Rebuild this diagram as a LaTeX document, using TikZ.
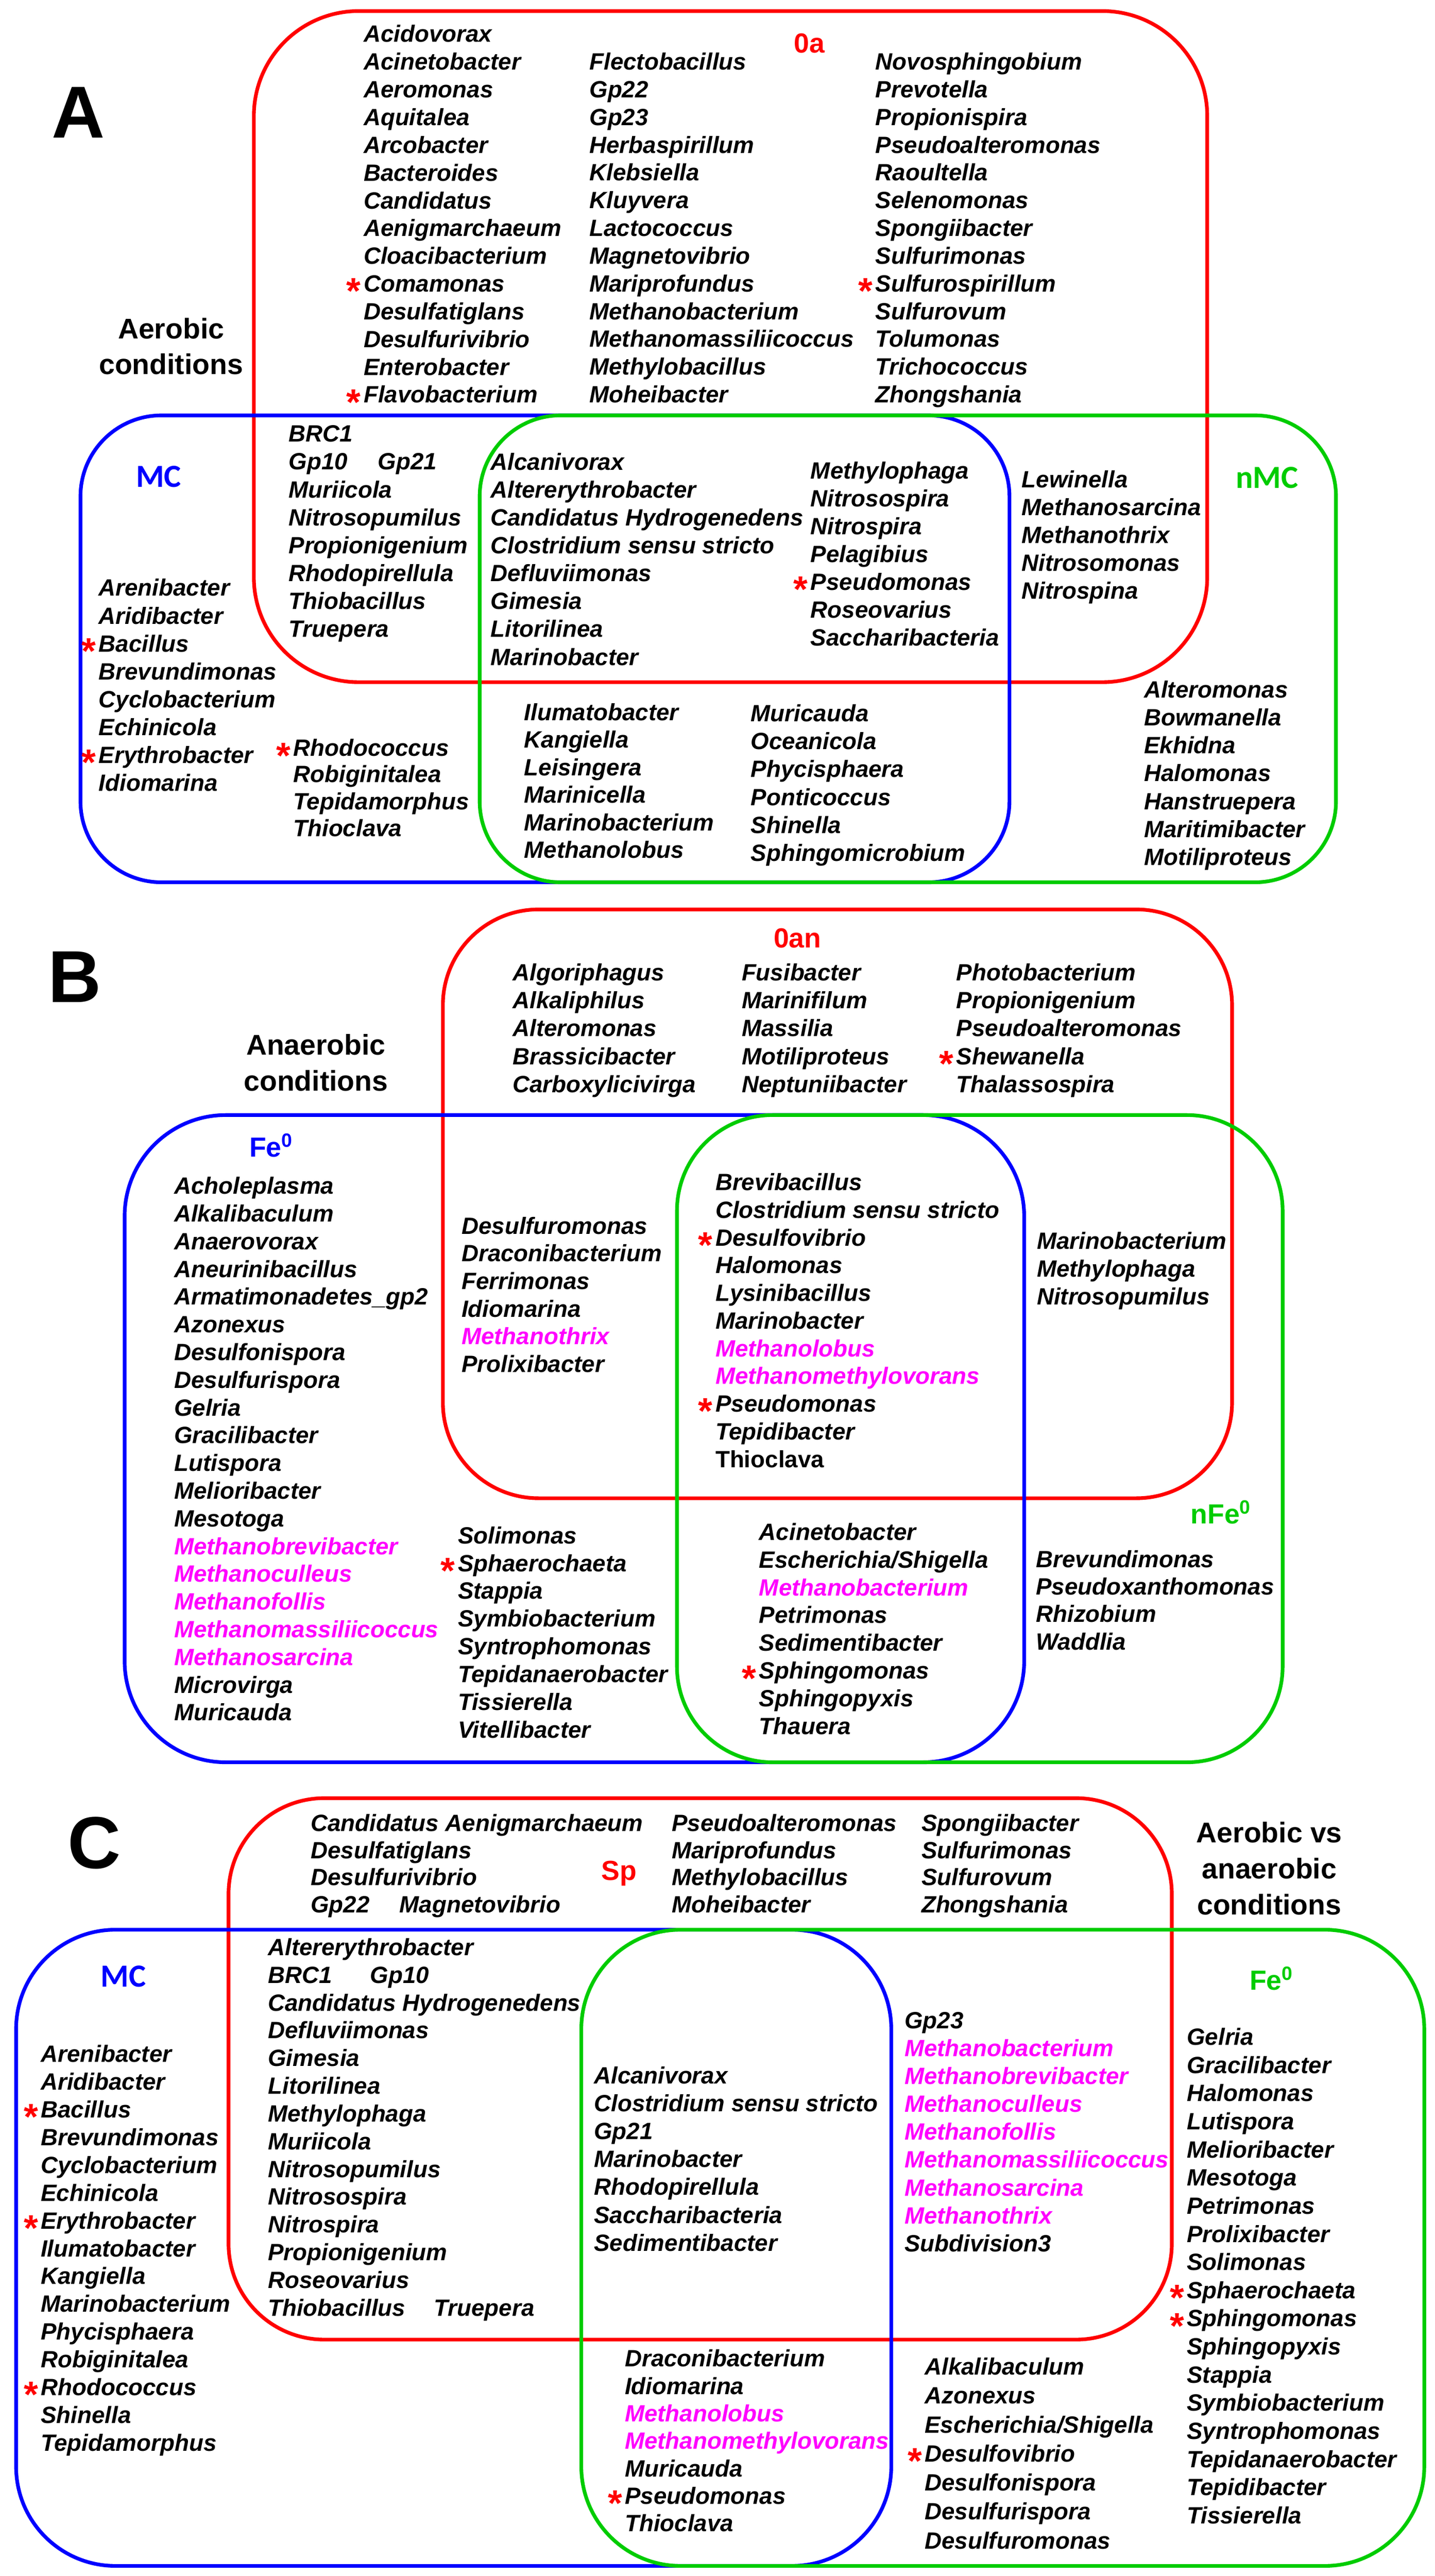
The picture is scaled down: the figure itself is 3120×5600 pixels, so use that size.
\documentclass[tikz,border=0pt]{standalone}
\usepackage{fontspec}
\setmainfont{Liberation Sans}
\newfontfamily\calfont{Carlito}
\definecolor{vred}{RGB}{255,0,0}
\definecolor{vblue}{RGB}{0,0,255}
\definecolor{vgreen}{RGB}{0,204,0}
\definecolor{vmag}{RGB}{255,0,255}
\newcommand\rast[1]{\llap{\smash{\raisebox{-6.5pt}{\textcolor{vred}{\fontsize{20}{20}\selectfont\upshape\bfseries *}}}\hspace{1.5pt}}#1}
\newcommand\meth[1]{\textcolor{vmag}{#1}}
% #1 name, #2 x (px), #3 first baseline (px), #4 line pitch (pt), #5 lines
\newcommand\spcol[5]{\node[sp, font=\fontsize{12.8}{#4}\selectfont\bfseries\itshape] (#1) at (#2,{#3-40}) {\rule{0pt}{10pt}#5};}
\begin{document}
\begin{tikzpicture}[x=0.25pt,y=-0.25pt,
  sp/.style={inner sep=0pt, anchor=north west, align=left},
  sp1/.style={inner sep=0pt, anchor=base west, font=\fontsize{12.8}{15}\selectfont\bfseries\itshape},
  box/.style={line width=2pt},
  lbl/.style={inner sep=0pt, font=\fontsize{15}{18}\selectfont\bfseries},
  mclbl/.style={inner sep=0pt, font=\calfont\fontsize{17.5}{20}\selectfont\bfseries},
  cond/.style={inner sep=0pt, align=center, font=\fontsize{15.5}{19.5}\selectfont\bfseries},
  panel/.style={inner sep=0pt, font=\fontsize{40}{40}\selectfont\bfseries}]
\useasboundingbox (0,0) rectangle (3120,5600);
% ---------------- Panel A ----------------
\draw[box, vred, rounded corners=57pt] (552,24) rectangle (2625,1483);
\draw[box, vblue, rounded corners=44pt] (175,903) rectangle (2195,1918);
\draw[box, vgreen, rounded corners=44pt] (1043,903) rectangle (2905,1918);
\node[panel] (pA) at (170,245) {A};
\node[cond] (aer) at (372,753) {Aerobic\\conditions};
\node[lbl, text=vred] (l0a) at (1760,94) {0a};
\node[mclbl, text=vblue] (lmcA) at (345,1036) {MC};
\node[mclbl, text=vgreen] (lnmc) at (2755,1038) {nMC};
\spcol{aoa}{790}{91}{15.075}{Acidovorax\\Acinetobacter\\Aeromonas\\Aquitalea\\Arcobacter\\Bacteroides\\Candidatus\\Aenigmarchaeum\\Cloacibacterium\\\rast{Comamonas}\\Desulfatiglans\\Desulfurivibrio\\Enterobacter\\\rast{Flavobacterium}}
\spcol{aob}{1281}{151}{15.075}{Flectobacillus\\Gp22\\Gp23\\Herbaspirillum\\Klebsiella\\Kluyvera\\Lactococcus\\Magnetovibrio\\Mariprofundus\\Methanobacterium\\Methanomassiliicoccus\\Methylobacillus\\Moheibacter}
\spcol{aoc}{1903}{151}{15.075}{Novosphingobium\\Prevotella\\Propionispira\\Pseudoalteromonas\\Raoultella\\Selenomonas\\Spongiibacter\\Sulfurimonas\\\rast{Sulfurospirillum}\\Sulfurovum\\Tolumonas\\Trichococcus\\Zhongshania}
\spcol{amo}{627}{960}{15.15}{BRC1\\\makebox[48.5pt][l]{Gp10}Gp21\\Muriicola\\Nitrosopumilus\\Propionigenium\\Rhodopirellula\\Thiobacillus\\Truepera}
\spcol{aall}{1066}{1021}{15.15}{Alcanivorax\\Altererythrobacter\\Candidatus Hydrogenedens\\Clostridium sensu stricto\\Defluviimonas\\Gimesia\\Litorilinea\\Marinobacter}
\spcol{aallb}{1762}{1040}{15.15}{Methylophaga\\Nitrosospira\\Nitrospira\\Pelagibius\\\rast{Pseudomonas}\\Roseovarius\\Saccharibacteria}
\spcol{aon}{2221}{1059}{15.15}{Lewinella\\Methanosarcina\\Methanothrix\\Nitrosomonas\\Nitrospina}
\spcol{amc}{214}{1295}{15.15}{Arenibacter\\Aridibacter\\\rast{Bacillus}\\Brevundimonas\\Cyclobacterium\\Echinicola\\\rast{Erythrobacter}\\Idiomarina}
\node[sp1] (arho) at (637,1644) {\rast{Rhodococcus}};
\spcol{amcb}{637}{1700}{14.75}{Robiginitalea\\Tepidamorphus\\Thioclava}
\spcol{amn}{1139}{1565}{15}{Ilumatobacter\\Kangiella\\Leisingera\\Marinicella\\Marinobacterium\\Methanolobus}
\spcol{amnb}{1632}{1568}{15.15}{Muricauda\\Oceanicola\\Phycisphaera\\Ponticoccus\\Shinella\\Sphingomicrobium}
\spcol{anm}{2487}{1516}{15.175}{Alteromonas\\Bowmanella\\Ekhidna\\Halomonas\\Hanstruepera\\Maritimibacter\\Motiliproteus}
% ---------------- Panel B ----------------
\draw[box, vred, rounded corners=52pt] (963,1977) rectangle (2679,3257);
\draw[box, vblue, rounded corners=55pt] (271,2424) rectangle (2227,3831);
\draw[box, vgreen, rounded corners=52pt] (1472,2424) rectangle (2789,3831);
\node[panel] (pB) at (162,2124) {B};
\node[cond] (anaer) at (687,2310) {Anaerobic\\conditions};
\node[lbl, text=vred] (l0an) at (1734,2040) {0an};
\node[lbl, text=vblue] (lfe) at (590,2490) {Fe\textsuperscript{0}};
\node[lbl, text=vgreen] (lnfe) at (2655,3287) {nFe\textsuperscript{0}};
\spcol{boa}{1114}{2131}{15.175}{Algoriphagus\\Alkaliphilus\\Alteromonas\\Brassicibacter\\Carboxylicivirga}
\spcol{bob}{1612}{2131}{15.175}{Fusibacter\\Marinifilum\\Massilia\\Motiliproteus\\Neptuniibacter}
\spcol{boc}{2079}{2131}{15.175}{Photobacterium\\Propionigenium\\Pseudoalteromonas\\\rast{Shewanella}\\Thalassospira}
\spcol{bfo}{1003}{2682}{15}{Desulfuromonas\\Draconibacterium\\Ferrimonas\\Idiomarina\\\meth{Methanothrix}\\Prolixibacter}
\spcol{ball}{1555}{2587}{15.05}{Brevibacillus\\Clostridium sensu stricto\\\rast{Desulfovibrio}\\Halomonas\\Lysinibacillus\\Marinobacter\\\meth{Methanolobus}\\\meth{Methanomethylovorans}\\\rast{Pseudomonas}\\Tepidibacter\\\textup{Thioclava}}
\spcol{bno}{2254}{2715}{15.125}{Marinobacterium\\Methylophaga\\Nitrosopumilus}
\spcol{bfe}{378}{2595}{15.065}{Acholeplasma\\Alkalibaculum\\Anaerovorax\\Aneurinibacillus\\Armatimonadetes\_gp2\\Azonexus\\Desulfonispora\\Desulfurispora\\Gelria\\Gracilibacter\\Lutispora\\Melioribacter\\Mesotoga\\\meth{Methanobrevibacter}\\\meth{Methanoculleus}\\\meth{Methanofollis}\\\meth{Methanomassiliicoccus}\\\meth{Methanosarcina}\\Microvirga\\Muricauda}
\spcol{bfeb}{995}{3355}{15.075}{Solimonas\\\rast{Sphaerochaeta}\\Stappia\\Symbiobacterium\\Syntrophomonas\\Tepidanaerobacter\\Tissierella\\Vitellibacter}
\spcol{bfn}{1650}{3347}{15.1}{Acinetobacter\\Escherichia/Shigella\\\meth{Methanobacterium}\\Petrimonas\\Sedimentibacter\\\rast{Sphingomonas}\\Sphingopyxis\\Thauera}
\spcol{bnf}{2252}{3407}{14.875}{Brevundimonas\\Pseudoxanthomonas\\Rhizobium\\Waddlia}
% ---------------- Panel C ----------------
\draw[box, vred, rounded corners=52pt] (497,3909) rectangle (2548,5086);
\draw[box, vblue, rounded corners=54pt] (35,4195) rectangle (1938,5578);
\draw[box, vgreen, rounded corners=54pt] (1264,4195) rectangle (3097,5578);
\node[panel] (pC) at (205,4006) {C};
\node[cond] (cmp) at (2760,4062) {Aerobic vs\\anaerobic\\conditions};
\node[lbl, text=vred] (lsp) at (1346,4073) {Sp};
\node[mclbl, text=vblue] (lmcC) at (268,4296) {MC};
\node[lbl, text=vgreen] (lfeC) at (2765,4301) {Fe\textsuperscript{0}};
\spcol{csa}{675}{3980}{14.75}{Candidatus Aenigmarchaeum\\Desulfatiglans\\Desulfurivibrio\\\makebox[48.25pt][l]{Gp22}Magnetovibrio}
\spcol{csb}{1460}{3980}{14.75}{Pseudoalteromonas\\Mariprofundus\\Methylobacillus\\Moheibacter}
\spcol{csc}{2003}{3980}{14.75}{Spongiibacter\\Sulfurimonas\\Sulfurovum\\Zhongshania}
\spcol{csm}{582}{4250}{15.075}{Altererythrobacter\\\makebox[55.5pt][l]{BRC1}Gp10\\Candidatus Hydrogenedens\\Defluviimonas\\Gimesia\\Litorilinea\\Methylophaga\\Muriicola\\Nitrosopumilus\\Nitrosospira\\Nitrospira\\Propionigenium\\Roseovarius\\\makebox[90.25pt][l]{Thiobacillus}Truepera}
\spcol{call}{1291}{4529}{15.15}{Alcanivorax\\Clostridium sensu stricto\\Gp21\\Marinobacter\\Rhodopirellula\\Saccharibacteria\\Sedimentibacter}
\spcol{csf}{1966}{4409}{15.15}{Gp23\\\meth{Methanobacterium}\\\meth{Methanobrevibacter}\\\meth{Methanoculleus}\\\meth{Methanofollis}\\\meth{Methanomassiliicoccus}\\\meth{Methanosarcina}\\\meth{Methanothrix}\\Subdivision3}
\spcol{cmf}{1358}{5144}{14.95}{Draconibacterium\\Idiomarina\\\meth{Methanolobus}\\\meth{Methanomethylovorans}\\Muricauda\\\rast{Pseudomonas}\\Thioclava}
\spcol{cfa}{2010}{5162}{15.75}{Alkalibaculum\\Azonexus\\Escherichia/Shigella\\\rast{Desulfovibrio}\\Desulfonispora\\Desulfurispora\\Desulfuromonas}
\spcol{cfb}{2580}{4445}{15.3}{Gelria\\Gracilibacter\\Halomonas\\Lutispora\\Melioribacter\\Mesotoga\\Petrimonas\\Prolixibacter\\Solimonas\\\rast{Sphaerochaeta}\\\rast{Sphingomonas}\\Sphingopyxis\\Stappia\\Symbiobacterium\\Syntrophomonas\\Tepidanaerobacter\\Tepidibacter\\Tissierella}
\spcol{cmc}{88}{4482}{15.1}{Arenibacter\\Aridibacter\\\rast{Bacillus}\\Brevundimonas\\Cyclobacterium\\Echinicola\\\rast{Erythrobacter}\\Ilumatobacter\\Kangiella\\Marinobacterium\\Phycisphaera\\Robiginitalea\\\rast{Rhodococcus}\\Shinella\\Tepidamorphus}
\end{tikzpicture}
\end{document}
